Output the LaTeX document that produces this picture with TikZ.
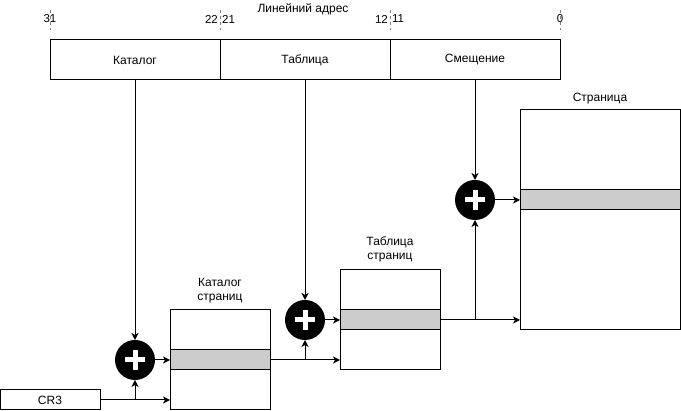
\documentclass[tikz,border=0pt]{standalone}
\usepackage{fontspec}
\setmainfont{Liberation Sans}
\usepackage{xcolor}
\usepackage{tikz}
\usetikzlibrary{calc,arrows.meta,positioning}
\definecolor{line}{HTML}{000000}
\definecolor{band}{HTML}{CCCCCC}
\definecolor{muted}{HTML}{808080}
\tikzset{
  base/.style={draw=line, line width=1pt},
  cell/.style={base, fill=white, minimum width=170pt, minimum height=40pt,
    inner sep=0pt, outer sep=0pt, font=\fontsize{12}{14}\selectfont},
  tick/.style={draw=muted, line width=1pt, dash pattern=on 3pt off 3pt},
  num/.style={font=\fontsize{11.5}{14}\selectfont, inner sep=1pt},
  caption/.style={font=\fontsize{12}{14}\selectfont, align=center, inner sep=0pt},
  memory/.style={base, fill=white, minimum width=100pt, inner sep=0pt, outer sep=0pt},
  row/.style={base, fill=band, minimum height=20pt, inner sep=0pt, outer sep=0pt},
  adder/.style={circle, fill=line, minimum size=40pt, inner sep=0pt, outer sep=0pt,
    path picture={
      \draw[white, line width=5pt]
        ($(path picture bounding box.center)+(-10,0)$) -- ++(20,0)
        ($(path picture bounding box.center)+(0,-10)$) -- ++(0,20);
    }},
  flow/.style={base, -{Stealth[length=7pt,width=7pt,inset=2pt]}}
}
\begin{document}
\begin{tikzpicture}[x=1pt,y=-1pt]
  \useasboundingbox (0,0) rectangle (681,411);

  % linear address
  \node[caption] (title) at (303,9) {Линейний адрес};
  \node[cell] (dir) at (135,60) {Каталог};
  \node[cell] (tab) at (305,60) {Таблица};
  \node[cell] (off) at (475,60) {Смещение};

  % bit positions
  \foreach \x in {50,220,390,560}
    \draw[tick] (\x,10) -- (\x,30);
  \node[num] at (50,19) {31};
  \node[num, anchor=east] at (219,19) {22};
  \node[num, anchor=west] at (221,19) {21};
  \node[num, anchor=east] at (389,19) {12};
  \node[num, anchor=west] at (391,19) {11};
  \node[num] at (560,19) {0};

  % CR3 register
  \node[base, minimum width=100pt, minimum height=20pt, inner sep=0pt, outer sep=0pt,
    font=\fontsize{12}{14}\selectfont] (cr3) at (50,400) {CR3};

  % page directory, page table, page
  \node[memory, minimum height=100pt] (pdir) at (220,360) {};
  \node[row, minimum width=100pt] (dirrow) at (220,360) {};
  \node[caption] at (220,291) {Каталог\\страниц};

  \node[memory, minimum height=100pt] (ptab) at (390,320) {};
  \node[row, minimum width=100pt] (tabrow) at (390,320) {};
  \node[caption] at (390,249) {Таблица\\страниц};

  \node[memory, minimum width=160pt, minimum height=220pt] (page) at (600,220) {};
  \node[row, minimum width=160pt] (pagerow) at (600,200) {};
  \node[caption] at (600,99) {Страница};

  % adders
  \node[adder] (adda) at (135,360) {};
  \node[adder] (addb) at (305,320) {};
  \node[adder] (addc) at (475,200) {};

  % connections
  \draw[flow] (dir.south) -- (adda.north);
  \draw[flow] (tab.south) -- (addb.north);
  \draw[flow] (off.south) -- (addc.north);

  \draw[flow] (cr3.east) -- (cr3.east -| pdir.west);
  \draw[flow] (cr3.east -| adda.south) -- (adda.south);
  \draw[flow] (adda.east) -- (dirrow.west);

  \draw[flow] (dirrow.east) -- (dirrow.east -| ptab.west);
  \draw[flow] (dirrow.east -| addb.south) -- (addb.south);
  \draw[flow] (addb.east) -- (tabrow.west);

  \draw[flow] (tabrow.east) -- (tabrow.east -| page.west);
  \draw[flow] (tabrow.east -| addc.south) -- (addc.south);
  \draw[flow] (addc.east) -- (pagerow.west);
\end{tikzpicture}
\end{document}
